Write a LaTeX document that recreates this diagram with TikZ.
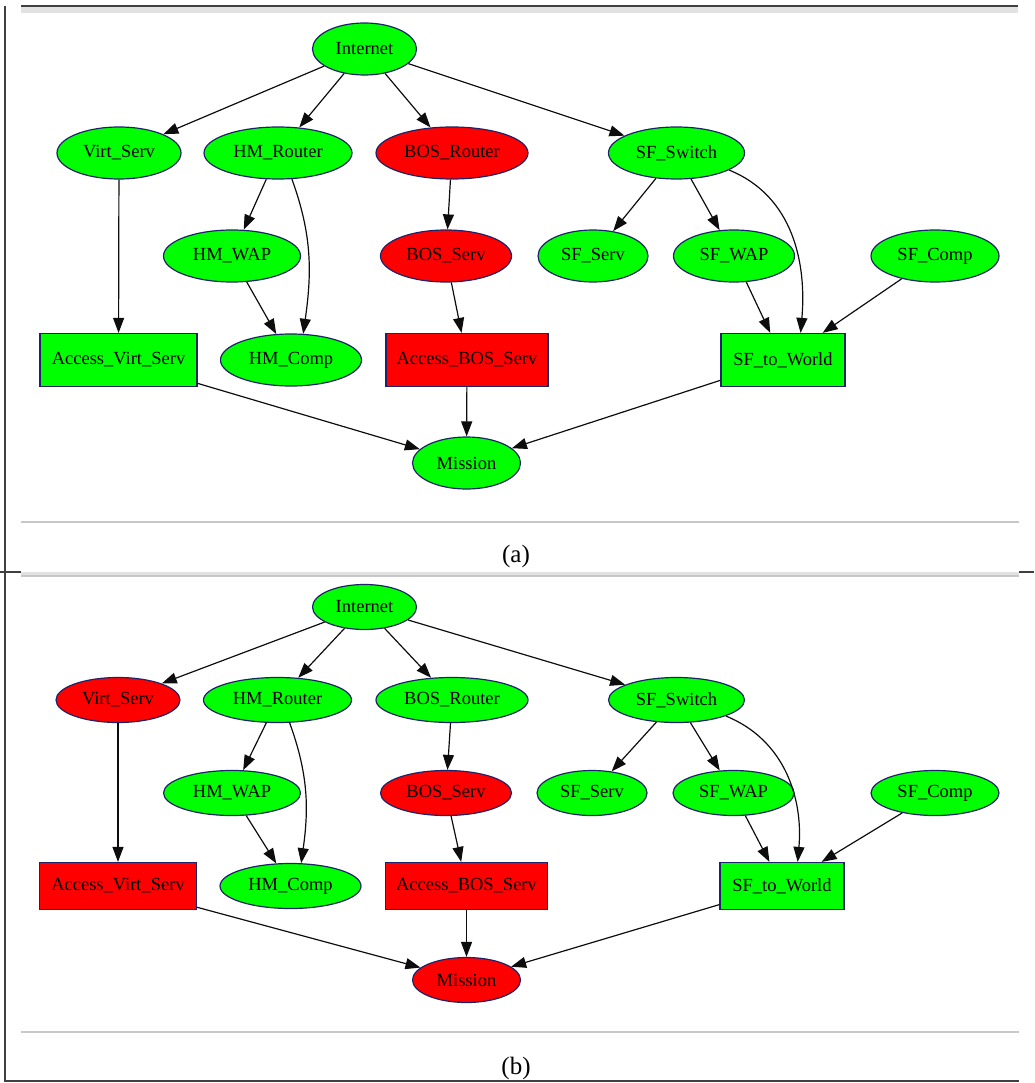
\documentclass[tikz,border=0pt]{standalone}
\usepackage{fontspec}
\setmainfont{Liberation Serif}
\usetikzlibrary{shapes.geometric,arrows.meta}
\definecolor{gvgreen}{RGB}{0,255,0}
\definecolor{gvred}{RGB}{255,0,0}
\definecolor{gvborder}{RGB}{30,35,105}
\definecolor{rulegray}{RGB}{200,200,200}
\definecolor{bandgray}{RGB}{226,226,226}
\begin{document}
\begin{tikzpicture}[x=1pt,y=-1pt,
  every node/.style={font=\fontsize{18.5}{20}\selectfont, text=black},
  ell/.style={ellipse, draw=gvborder, line width=1.2pt, inner sep=0pt},
  box/.style={rectangle, draw=gvborder, line width=1.2pt, inner sep=0pt},
  ea/.style={ell, minimum height=52pt},
  ba/.style={box, minimum height=53pt},
  eb/.style={ell, minimum height=45pt},
  bb/.style={box, minimum height=47pt},
  gn/.style={fill=gvgreen}, rn/.style={fill=gvred},
  conn/.style={draw=black!95, line width=1.2pt, -{Triangle[length=15pt,width=11pt]}},
  captext/.style={font=\fontsize{25}{28}\selectfont},
  frameline/.style={line width=1.3pt, draw=black!75},
  grayline/.style={line width=1.5pt, draw=rulegray}
]
\useasboundingbox (0,0) rectangle (1034,1083);

% ---------- frame ----------
\fill[bandgray] (21,7.5) rectangle (1018,13.3);
\draw[frameline] (21,6) -- (1018,6);
\draw[frameline] (5,6) -- (5,1081) -- (1019,1081);
\draw[grayline] (21,522) -- (1019,522);
\draw[frameline] (0,572) -- (21,572);
\draw[frameline] (1019,572) -- (1034,572);
\fill[bandgray] (21,572) rectangle (1019,574.5);
\draw[grayline] (21,576) -- (1019,576);
\draw[grayline] (21,1032) -- (1019,1032);
\node[captext] (capa) at (516,556) {(a)};
\node[captext] (capb) at (516,1068) {(b)};

% ---------- panel (a) ----------
\node[ea,gn,minimum width=104pt] (a-int) at (364.5,49) {Internet};
\node[ea,gn,minimum width=124pt] (a-virt) at (119,153) {Virt\_Serv};
\node[ea,gn,minimum width=148pt] (a-hmr) at (278,153) {HM\_Router};
\node[ea,rn,minimum width=152pt] (a-bosr) at (452,153) {BOS\_Router};
\node[ea,gn,minimum width=136pt] (a-sfs) at (676.5,153) {SF\_Switch};
\node[ea,gn,minimum width=137pt] (a-hmw) at (232,256) {HM\_WAP};
\node[ea,rn,minimum width=131pt] (a-boss) at (446,256) {BOS\_Serv};
\node[ea,gn,minimum width=110pt] (a-sfsv) at (593,256) {SF\_Serv};
\node[ea,gn,minimum width=121pt] (a-sfwap) at (734,256) {SF\_WAP};
\node[ea,gn,minimum width=128pt] (a-sfc) at (935,256) {SF\_Comp};
\node[ba,gn,minimum width=157pt] (a-avs) at (118.5,360) {Access\_Virt\_Serv};
\node[ea,gn,minimum width=141pt] (a-hmc) at (291,360) {HM\_Comp};
\node[ba,rn,minimum width=162pt] (a-abs) at (467,360) {Access\_BOS\_Serv};
\node[ba,gn,minimum width=124pt] (a-sfw) at (783,360) {SF\_to\_World};
\node[ea,gn,minimum width=108pt] (a-mis) at (466.5,463) {Mission};

\draw[conn] (a-int) -- (a-virt);
\draw[conn] (a-int) -- (a-hmr);
\draw[conn] (a-int) -- (a-bosr);
\draw[conn] (a-int) -- (a-sfs);
\draw[conn] (a-virt) -- (a-avs);
\draw[conn] (a-hmr) -- (a-hmw);
\draw[conn] (a-hmr.-62) to[out=-70,in=82] (a-hmc.65);
\draw[conn] (a-hmw) -- (a-hmc);
\draw[conn] (a-bosr) -- (a-boss);
\draw[conn] (a-boss) -- (a-abs);
\draw[conn] (a-sfs) -- (a-sfsv);
\draw[conn] (a-sfs) -- (a-sfwap);
\draw[conn] (a-sfs.-18) to[out=-22,in=85] (a-sfw.57);
\draw[conn] (a-sfwap) -- (a-sfw);
\draw[conn] (a-sfc) -- (a-sfw);
\draw[conn] (a-avs) -- (a-mis);
\draw[conn] (a-abs) -- (a-mis);
\draw[conn] (a-sfw) -- (a-mis);

% ---------- panel (b) ----------
\node[eb,gn,minimum width=104pt] (b-int) at (364.5,607) {Internet};
\node[eb,rn,minimum width=124pt] (b-virt) at (118,700) {Virt\_Serv};
\node[eb,gn,minimum width=148pt] (b-hmr) at (277.5,700) {HM\_Router};
\node[eb,gn,minimum width=152pt] (b-bosr) at (452,700) {BOS\_Router};
\node[eb,gn,minimum width=136pt] (b-sfs) at (676.5,700) {SF\_Switch};
\node[eb,gn,minimum width=137pt] (b-hmw) at (232,793) {HM\_WAP};
\node[eb,rn,minimum width=131pt] (b-boss) at (446,793) {BOS\_Serv};
\node[eb,gn,minimum width=110pt] (b-sfsv) at (592,793) {SF\_Serv};
\node[eb,gn,minimum width=121pt] (b-sfwap) at (733.5,793) {SF\_WAP};
\node[eb,gn,minimum width=128pt] (b-sfc) at (935,793) {SF\_Comp};
\node[bb,rn,minimum width=157pt] (b-avs) at (118,886) {Access\_Virt\_Serv};
\node[eb,gn,minimum width=141pt] (b-hmc) at (290.5,886) {HM\_Comp};
\node[bb,rn,minimum width=162pt] (b-abs) at (466.5,886) {Access\_BOS\_Serv};
\node[bb,gn,minimum width=124pt] (b-sfw) at (782,886) {SF\_to\_World};
\node[eb,rn,minimum width=108pt] (b-mis) at (466.5,980) {Mission};

\draw[conn] (b-int) -- (b-virt);
\draw[conn] (b-int) -- (b-hmr);
\draw[conn] (b-int) -- (b-bosr);
\draw[conn] (b-int) -- (b-sfs);
\draw[conn] (b-virt) -- (b-avs);
\draw[conn] (b-hmr) -- (b-hmw);
\draw[conn] (b-hmr.-62) to[out=-70,in=82] (b-hmc.65);
\draw[conn] (b-hmw) -- (b-hmc);
\draw[conn] (b-bosr) -- (b-boss);
\draw[conn] (b-boss) -- (b-abs);
\draw[conn] (b-sfs) -- (b-sfsv);
\draw[conn] (b-sfs) -- (b-sfwap);
\draw[conn] (b-sfs.-18) to[out=-22,in=85] (b-sfw.57);
\draw[conn] (b-sfwap) -- (b-sfw);
\draw[conn] (b-sfc) -- (b-sfw);
\draw[conn] (b-avs) -- (b-mis);
\draw[conn] (b-abs) -- (b-mis);
\draw[conn] (b-sfw) -- (b-mis);
\end{tikzpicture}
\end{document}
